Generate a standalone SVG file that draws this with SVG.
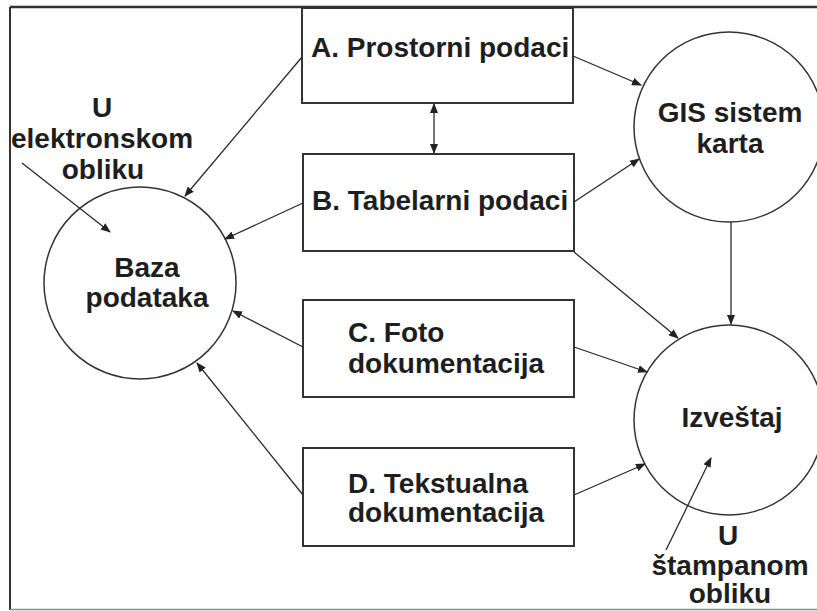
<svg xmlns="http://www.w3.org/2000/svg" width="817" height="611" viewBox="0 0 817 611">
<defs>
<marker id="ah" markerWidth="10" markerHeight="8" refX="9" refY="4" orient="auto" markerUnits="userSpaceOnUse">
<path d="M0,0 L10,4 L0,8 z" fill="#222"/>
</marker>
<marker id="ahs" markerWidth="10" markerHeight="8" refX="9" refY="4" orient="auto-start-reverse" markerUnits="userSpaceOnUse">
<path d="M0,0 L10,4 L0,8 z" fill="#222"/>
</marker>
</defs>
<style>
.box{fill:#fff;stroke:#333;stroke-width:2}
.circ{fill:#fff;stroke:#333;stroke-width:1.5}
.lbl{font-family:"Liberation Sans",Arial,sans-serif;font-weight:bold;font-size:28px;fill:#1e1e1e}
.mid{text-anchor:middle}
.con{stroke:#2a2a2a;stroke-width:1.3;fill:none;marker-end:url(#ah)}
.frame{stroke:#333;fill:none}
</style>
<rect width="817" height="611" fill="#fff"/>
<g id="frame">
<line class="frame" x1="10" y1="7" x2="817" y2="7" stroke-width="2.5" stroke="#111"/>
<line class="frame" x1="10" y1="7" x2="10" y2="610" stroke-width="2" stroke="#555"/>
<line x1="10" y1="609.5" x2="817" y2="609.5" stroke="#888" stroke-width="1.5"/>
</g>
<g id="baza">
<circle class="circ" cx="140" cy="283" r="96"/>
<text class="lbl mid" x="147" y="277">Baza</text>
<text class="lbl mid" x="147" y="307">podataka</text>
</g>
<g id="gis">
<circle class="circ" cx="729" cy="127" r="95"/>
<text class="lbl mid" x="730" y="122">GIS sistem</text>
<text class="lbl mid" x="730" y="153">karta</text>
</g>
<g id="izvestaj">
<circle class="circ" cx="729" cy="420" r="95"/>
<text class="lbl mid" x="732" y="427">Izveštaj</text>
</g>
<g id="boxA">
<rect class="box" x="302" y="8" width="271" height="95"/>
<text class="lbl" x="311" y="57">A. Prostorni podaci</text>
</g>
<g id="boxB">
<rect class="box" x="303" y="154" width="271" height="97"/>
<text class="lbl" x="312" y="210">B. Tabelarni podaci</text>
</g>
<g id="boxC">
<rect class="box" x="303" y="300" width="271" height="97"/>
<text class="lbl" x="348" y="342">C. Foto</text>
<text class="lbl" x="348" y="373">dokumentacija</text>
</g>
<g id="boxD">
<rect class="box" x="303" y="448" width="271" height="98"/>
<text class="lbl" x="348" y="493">D. Tekstualna</text>
<text class="lbl" x="348" y="522">dokumentacija</text>
</g>
<g id="labelElektronski">
<text class="lbl mid" x="102" y="117">U</text>
<text class="lbl mid" x="102" y="148">elektronskom</text>
<text class="lbl mid" x="103" y="179">obliku</text>
</g>
<g id="labelStampani">
<text class="lbl mid" x="728" y="545">U</text>
<text class="lbl mid" x="730" y="575">štampanom</text>
<text class="lbl mid" x="730" y="603">obliku</text>
</g>
<g id="connectors">
<line class="con" x1="302" y1="57" x2="185" y2="196"/>
<line class="con" x1="303" y1="203" x2="225" y2="239"/>
<line class="con" x1="303" y1="347" x2="233" y2="311"/>
<line class="con" x1="303" y1="495" x2="197" y2="363"/>
<line class="con" x1="573" y1="56" x2="641" y2="85"/>
<line class="con" x1="574" y1="202" x2="639" y2="159"/>
<line class="con" x1="434" y1="104" x2="434" y2="153" marker-start="url(#ahs)"/>
<line class="con" x1="574" y1="252" x2="678" y2="338"/>
<line class="con" x1="731" y1="222" x2="731" y2="324"/>
<line class="con" x1="574" y1="347" x2="647" y2="372"/>
<line class="con" x1="574" y1="495" x2="645" y2="464"/>
<line class="con" x1="666" y1="550" x2="711" y2="458"/>
<line class="con" x1="22" y1="163" x2="110" y2="232"/>
</g>
</svg>
